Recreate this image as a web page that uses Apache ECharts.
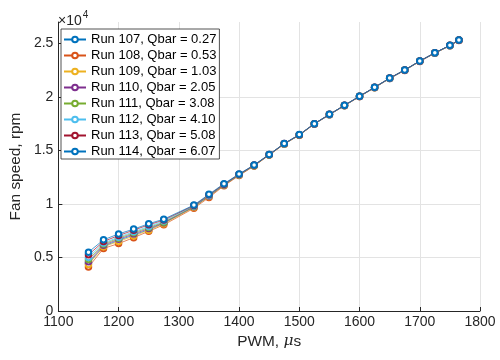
<!DOCTYPE html>
<html><head><meta charset="utf-8">
<script src="https://cdn.jsdelivr.net/npm/echarts@6/dist/echarts.min.js"></script>
<style>html,body{margin:0;padding:0;background:#fff}#c{width:500px;height:360px}</style>
</head><body><div id="c"></div>
<script>
const pwm = [1150,1175,1200,1225,1250,1275,1325,1350,1375,1400,1425,1450,1475,1500,1525,1550,1575,1600,1625,1650,1675,1700,1725,1750,1765];
const run107 = [4450,6050,6600,7100,7600,8200,9700,10720,11760,12710,13580,14590,15610,16440,17470,18340,19190,20040,20870,21730,22490,23330,24090,24790,25290];
const run108 = [4100,5850,6300,6850,7450,8050,9600,10600,11700,12650,13550,14570,15590,16430,17460,18330,19180,20030,20860,21720,22480,23320,24080,24780,25280];
const run109 = [4350,6000,6500,7000,7550,8150,9680,10700,11750,12700,13580,14590,15610,16440,17480,18350,19200,20050,20880,21740,22500,23340,24100,24800,25300];
const run110 = [4600,6150,6700,7200,7700,8250,9750,10750,11780,12720,13590,14600,15620,16450,17480,18350,19200,20050,20880,21740,22500,23340,24100,24800,25300];
const run111 = [4800,6250,6800,7300,7800,8300,9780,10780,11800,12730,13600,14600,15620,16450,17490,18360,19210,20060,20890,21750,22510,23350,24110,24810,25310];
const run112 = [5000,6350,6900,7400,7900,8400,9800,10800,11820,12750,13620,14610,15630,16460,17490,18360,19210,20060,20890,21750,22510,23350,24110,24810,25310];
const run113 = [5250,6500,7050,7550,8050,8500,9850,10850,11850,12780,13630,14620,15640,16470,17500,18370,19220,20070,20900,21760,22520,23360,24120,24820,25320];
const run114 = [5500,6650,7200,7650,8150,8580,9900,10900,11900,12800,13650,14630,15650,16480,17500,18370,19220,20070,20900,21760,22520,23360,24120,24820,25320];
const seriesNames = ['Run 107, Qbar = 0.27','Run 108, Qbar = 0.53','Run 109, Qbar = 1.03','Run 110, Qbar = 2.05','Run 111, Qbar = 3.08','Run 112, Qbar = 4.10','Run 113, Qbar = 5.08','Run 114, Qbar = 6.07'];
const seriesValues = [run107,run108,run109,run110,run111,run112,run113,run114];
const colors = ['#0072BD','#D95319','#EDB120','#7E2F8E','#77AC30','#4DBEEE','#A2142F','#0072BD'];
const xTicks = [1100,1200,1300,1400,1500,1600,1700,1800];
const yTicks = [0,5000,10000,15000,20000,25000];
const yTickLabels = ['0','0.5','1','1.5','2','2.5'];

const axisColor = '#262626';
const gridColor = '#e3e3e3';
const font = 'Liberation Sans';

const chart = echarts.init(document.getElementById('c'), null, {renderer:'canvas'});
chart.setOption({
  animation: false,
  backgroundColor: '#fff',
  color: colors,
  textStyle: {fontFamily: font},
  title: {
    text: '{a|×10}{b|4}',
    left: 53, top: 5,
    textStyle: {
      fontWeight: 'normal',
      rich: {
        a: {fontSize: 14, fontFamily: font, fontWeight: 'normal', color: axisColor, verticalAlign: 'bottom', lineHeight: 18},
        b: {fontSize: 10, fontFamily: font, fontWeight: 'normal', color: axisColor, verticalAlign: 'top', lineHeight: 18, padding: [0,0,8,1]}
      }
    }
  },
  grid: {left: 54, right: 20, top: 22, bottom: 49, containLabel: false},
  legend: {
    left: 61, top: 29,
    orient: 'vertical',
    itemWidth: 22, itemHeight: 7, itemGap: 3,
    padding: [4, 3, 1, 2],
    borderColor: axisColor, borderWidth: 0.8,
    backgroundColor: '#fff',
    formatter: '{t|{name}}',
    textStyle: {fontSize: 13, fontFamily: font, color: '#000',
      rich: {t: {fontSize: 13, fontFamily: font, color: '#000', lineHeight: 16}}},
    data: seriesNames
  },
  xAxis: {
    type: 'value', min: 1100, max: 1800, interval: 100,
    name: 'PWM, {i|μ}s', nameLocation: 'middle', nameGap: 13,
    nameTextStyle: {fontSize: 15.4, fontFamily: font, color: axisColor,
      rich: {i: {fontSize: 15.4, fontStyle: 'italic', fontFamily: 'DejaVu Serif', color: axisColor}}},
    axisLine: {show: true, lineStyle: {color: axisColor, width: 1}},
    axisTick: {show: true, inside: true, length: 4, lineStyle: {color: axisColor}},
    axisLabel: {fontSize: 14, color: axisColor, margin: 4, fontFamily: font, formatter: v => String(v)},
    splitLine: {show: true, lineStyle: {color: gridColor, width: 1}}
  },
  yAxis: {
    type: 'value', min: 0, max: 27000, interval: 5000,
    name: 'Fan speed, rpm', nameLocation: 'middle', nameGap: 24,
    nameTextStyle: {fontSize: 15.4, fontFamily: font, color: axisColor},
    axisLine: {show: true, lineStyle: {color: axisColor, width: 1}},
    axisTick: {show: true, inside: true, length: 4, lineStyle: {color: axisColor}, customValues: yTicks},
    axisLabel: {fontSize: 14, color: axisColor, margin: 5, fontFamily: font, customValues: yTicks,
      formatter: v => { const i = yTicks.indexOf(v); return i >= 0 ? yTickLabels[i] : ''; }},
    splitLine: {show: true, showMaxLine: false, lineStyle: {color: gridColor, width: 1}}
  },
  series: seriesValues.map((vals, k) => ({
    name: seriesNames[k],
    type: 'line',
    data: pwm.map((x, i) => [x, vals[i]]),
    symbol: 'emptyCircle',
    symbolSize: 5.5,
    showAllSymbol: true,
    lineStyle: {width: 0.7, color: colors[k]},
    itemStyle: {color: colors[k], borderColor: colors[k], borderWidth: 0.7},
    emphasis: {disabled: true}
  }))
});
</script>
</body></html>
